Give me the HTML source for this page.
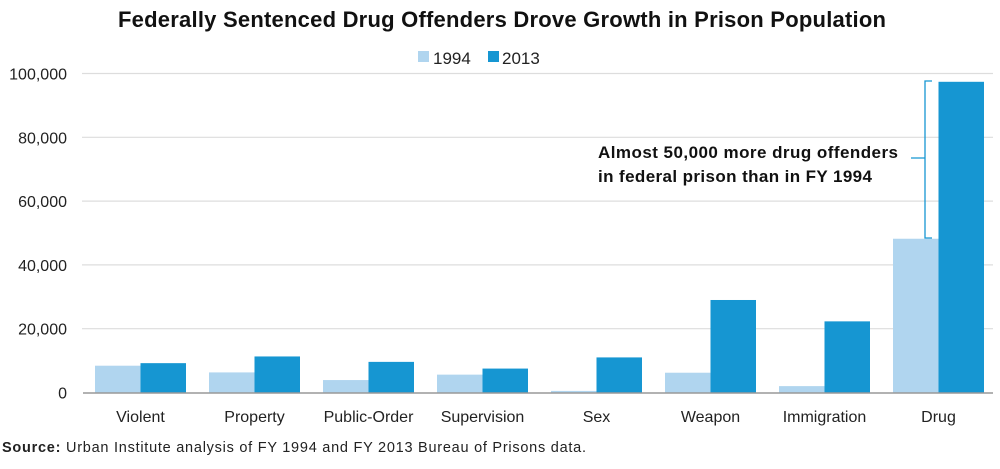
<!DOCTYPE html>
<html><head><meta charset="utf-8"><style>
body{margin:0;background:#fff;font-family:"Liberation Sans",sans-serif;}
</style></head><body>
<svg width="1000" height="464" viewBox="0 0 1000 464" font-family="Liberation Sans, sans-serif">
<text x="502" y="27" text-anchor="middle" font-size="22" font-weight="bold" fill="#111" textLength="768">Federally Sentenced Drug Offenders Drove Growth in Prison Population</text>
<g>
<rect x="418" y="51" width="11" height="11" fill="#b0d5ef"/>
<text x="433" y="64" font-size="17" fill="#222">1994</text>
<rect x="488" y="51" width="11" height="11" fill="#1696d2"/>
<text x="502" y="64" font-size="17" fill="#222">2013</text>
</g>
<g id="grid"></g><g id="bars"></g><g id="xl"></g>
<g>
<path d="M932 81 H925 V158 H911 M925 158 V238 H932" fill="none" stroke="#1696d2" stroke-width="1.3"/>
<text x="598" y="158" font-size="17" font-weight="bold" fill="#111" textLength="300">Almost 50,000 more drug offenders</text>
<text x="598" y="182" font-size="17" font-weight="bold" fill="#111" textLength="274">in federal prison than in FY 1994</text>
</g>
<text x="2" y="452" font-size="14.5" fill="#222" textLength="584"><tspan font-weight="bold">Source:</tspan> Urban Institute analysis of FY 1994 and FY 2013 Bureau of Prisons data.</text>
</svg>
<script>
const categories=["Violent","Property","Public-Order","Supervision","Sex","Weapon","Immigration","Drug"];
const values1994=[8400,6300,3900,5600,500,6200,2000,48200];
const values2013=[9200,11300,9600,7500,11000,29000,22300,97400];
const yTicks=[0,20000,40000,60000,80000,100000];
const yTickLabels=["0","20,000","40,000","60,000","80,000","100,000"];
const NS="http://www.w3.org/2000/svg";
const y0=392.5,y1=73.5,x0=83,gStart=95,gStep=114,bw=45.5;
function y(v){return y0-(v/100000)*(y0-y1);}
function mk(t,a,p){const e=document.createElementNS(NS,t);for(const k in a)e.setAttribute(k,a[k]);p.appendChild(e);return e;}
const grid=document.getElementById('grid'),bars=document.getElementById('bars'),xl=document.getElementById('xl');
yTicks.forEach((v,i)=>{
 if(v>0){const l=mk('line',{x1:82,x2:993,y1:y(v),y2:y(v),stroke:'#ddd','stroke-width':1.2},grid);
 
 }
 const t=mk('text',{x:67,y:y(v)+6,'text-anchor':'end','font-size':16,fill:'#222'},grid);
 t.textContent=yTickLabels[i];
 
 
});
categories.forEach((c,i)=>{
 const gx=gStart+gStep*i;
 const a=mk('rect',{x:gx,y:y(values1994[i]),width:bw,height:y0-y(values1994[i]),fill:'#b0d5ef'},bars);
 
 
 const b=mk('rect',{x:gx+bw,y:y(values2013[i]),width:bw,height:y0-y(values2013[i]),fill:'#1696d2'},bars);
 
 
 const t=mk('text',{x:gx+bw,y:422,'text-anchor':'middle','font-size':16,fill:'#222'},xl);
 t.textContent=c;
 
 
});
const ax=mk('line',{x1:x0,x2:993,y1:y0+0.5,y2:y0+0.5,stroke:'#999','stroke-width':1.5},xl);


</script>
</body></html>
